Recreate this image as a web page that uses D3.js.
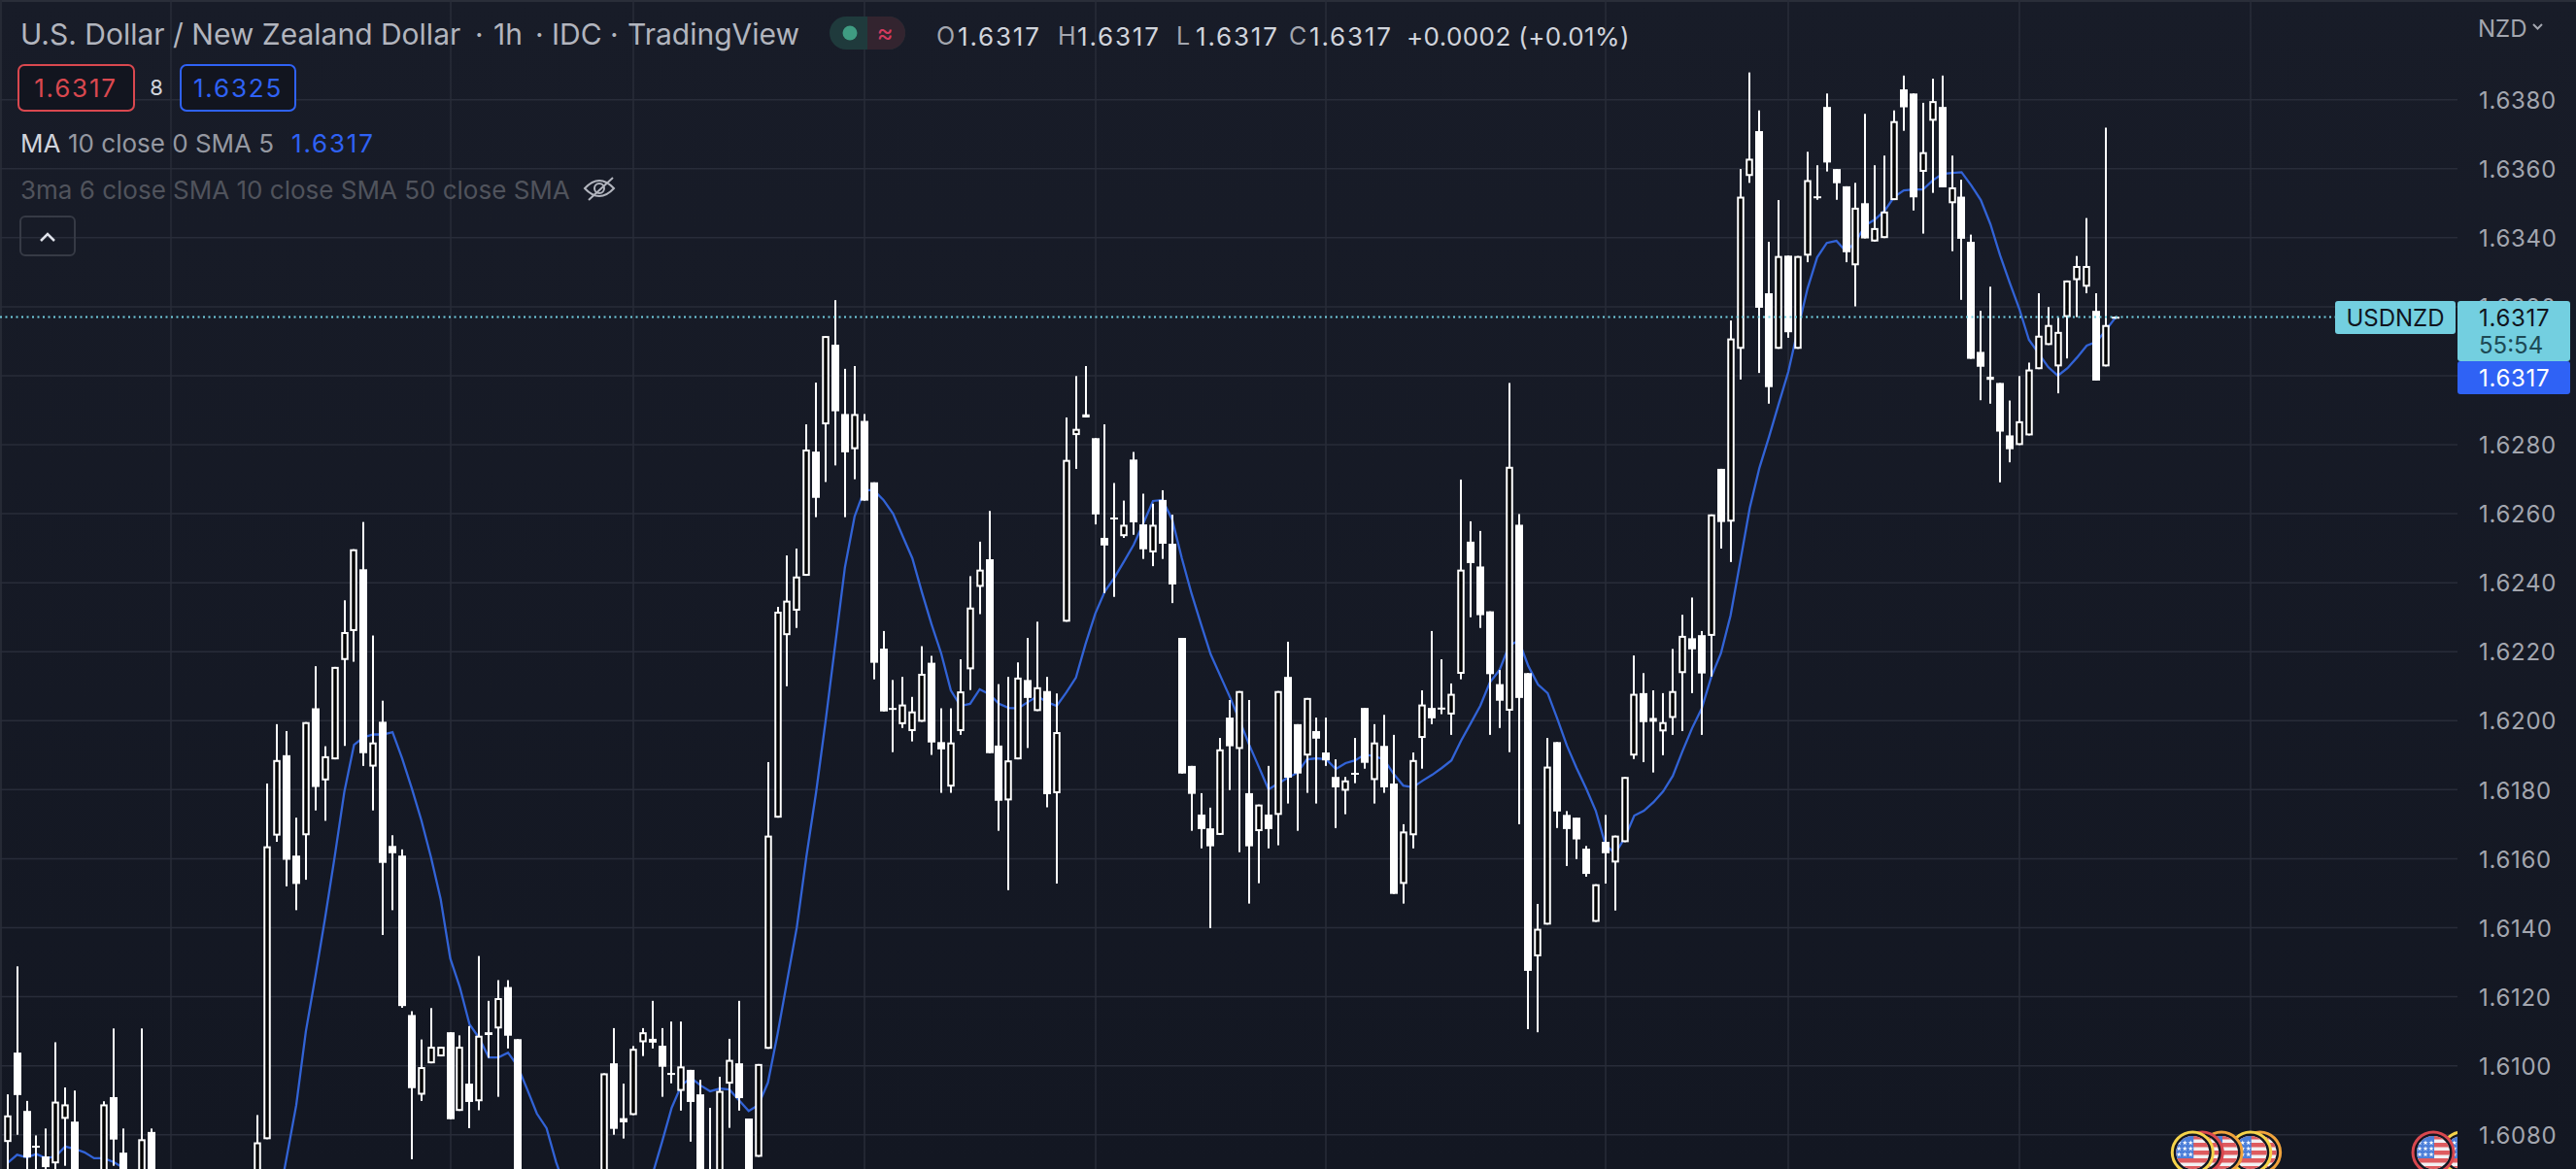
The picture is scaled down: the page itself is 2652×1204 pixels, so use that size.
<!DOCTYPE html>
<html>
<head>
<meta charset="utf-8">
<style>
html, body { margin: 0; padding: 0; background: #131722; overflow: hidden; }
svg { display: block; }
text { font-family: Inter, "Noto Sans", sans-serif; }
</style>
<script src="https://cdn.jsdelivr.net/npm/d3@7"></script>
</head>
<body>
<div id="chart"></div>
<script>
// hourly bars, null = bar sits under the bottom edge
const openValues = [
1.60779,1.61038,1.60869,1.60768,1.60737,1.60717,1.60846,1.60838,null,null,
1.60670,1.60909,1.60748,null,1.60678,1.60808,null,null,null,null,
null,null,null,null,null,null,1.60670,1.60787,1.61667,1.61900,
1.61609,1.61668,1.62036,1.61827,1.61888,1.62176,1.62260,1.62439,1.61867,1.61997,
1.61637,1.61609,1.61147,1.60916,1.61007,1.61027,1.61097,1.60869,1.60948,1.60897,
1.61097,1.61108,1.61228,1.61077,null,null,null,null,null,null,
null,null,1.60670,1.61007,1.60848,1.60857,1.61068,1.61078,1.61058,1.60979,
1.60927,1.60988,1.60917,1.60650,1.60670,1.60948,1.61007,1.60847,1.60736,1.61049,
1.61719,1.62248,1.62319,1.62420,1.62780,1.62859,1.63090,1.62889,1.62787,1.62869,
1.62691,1.62209,1.62037,1.61990,1.61970,1.61997,1.62168,1.61938,1.61809,1.61970,
1.62149,1.62388,1.62468,1.61928,1.61769,1.61888,1.62118,1.62028,1.62086,1.61790,
1.62287,1.62828,1.62879,1.62819,1.62530,1.62589,1.62535,1.62757,1.62569,1.62488,
1.62640,1.62513,1.62240,1.61869,1.61728,1.61688,1.61669,1.62009,1.61918,1.61790,
1.61680,1.61728,1.61727,1.62127,1.61990,1.61899,1.61970,1.61908,1.61837,1.61797,
1.61849,1.62037,1.61828,1.61927,1.61818,1.61527,1.61668,1.61950,1.62037,1.62038,
1.62018,1.62136,1.62519,1.62447,1.62317,1.62106,1.62029,1.62568,1.62138,1.61317,
1.61409,1.61938,1.61727,1.61719,1.61629,1.61417,1.61649,1.61589,1.61648,1.61899,
1.62080,1.61997,1.61969,1.62008,1.62138,1.62239,1.62248,1.62246,1.62730,1.62577,
1.63078,1.63579,1.63709,1.63239,1.63078,1.63348,1.63078,1.63348,1.63520,1.63779,
1.63599,1.63549,1.63320,1.63500,1.63389,1.63399,1.63509,1.63830,1.63818,1.63591,
1.63739,1.63779,1.63500,1.63519,1.63388,1.63069,1.62988,1.62979,1.62827,1.62799,
1.62827,1.63019,1.63089,1.63027,1.63170,1.63277,1.63258,1.63188,1.63027,1.63171]

const highValues = [
1.60917,1.61288,1.60898,1.60798,1.60818,1.61068,1.60937,1.60928,null,null,
1.60897,1.61108,1.60818,null,1.61108,1.60818,null,null,null,null,
null,null,null,null,null,null,1.60857,1.61818,1.61990,1.61970,
1.61719,1.61996,1.62158,1.61926,1.62156,1.62349,1.62497,1.62576,1.62247,1.62058,
1.61668,1.61627,1.61158,1.61076,1.61167,1.61055,1.61097,1.61088,1.61115,1.61318,
1.61188,1.61248,1.61248,1.61077,null,null,null,null,null,null,
null,null,1.60978,1.61109,1.60948,1.61057,1.61109,1.61188,1.61109,1.61128,
1.61128,1.60988,1.60959,1.60878,1.60968,1.61078,1.61188,1.60847,1.61005,1.61880,
1.62330,1.62479,1.62499,1.62859,1.62980,1.63115,1.63219,1.63020,1.63028,1.62889,
1.62691,1.62260,1.62118,1.62127,1.62069,1.62216,1.62188,1.62036,1.62036,1.62178,
1.62419,1.62519,1.62608,1.62106,1.62127,1.62169,1.62240,1.62287,1.62127,1.62079,
1.62879,1.62999,1.63028,1.62819,1.62859,1.62689,1.62638,1.62779,1.62658,1.62629,
1.62668,1.62597,1.62240,1.61869,1.61790,1.61748,1.61950,1.62060,1.62086,1.62060,
1.61757,1.61869,1.62086,1.62229,1.61990,1.62066,1.62009,1.62009,1.61888,1.61837,
1.61950,1.62037,1.61990,1.62017,1.61959,1.61700,1.61908,1.62088,1.62260,1.62178,
1.62108,1.62699,1.62578,1.62550,1.62317,1.62147,1.62979,1.62599,1.62138,1.61469,
1.61950,1.61938,1.61738,1.61719,1.61637,1.61526,1.61727,1.61667,1.61837,1.62189,
1.62138,1.62088,1.62080,1.62208,1.62307,1.62357,1.62260,1.62598,1.62730,1.63160,
1.63599,1.63879,1.63769,1.63388,1.63509,1.63348,1.63347,1.63649,1.63610,1.63818,
1.63599,1.63549,1.63559,1.63759,1.63610,1.63638,1.63769,1.63870,1.63818,1.63791,
1.63861,1.63870,1.63638,1.63568,1.63409,1.63188,1.63258,1.62979,1.62928,1.62999,
1.63038,1.63239,1.63199,1.63168,1.63276,1.63347,1.63457,1.63239,1.63719,1.63172]

const lowValues = [
1.60684,1.60800,1.60692,1.60692,1.60689,1.60684,1.60710,1.60670,null,null,
1.60661,1.60710,1.60670,null,1.60670,1.60670,null,null,null,null,
null,null,null,null,null,null,1.60661,1.60787,1.61649,1.61520,
1.61451,1.61539,1.61740,1.61710,1.61888,1.61927,1.62171,1.61869,1.61740,1.61379,
1.61451,1.61168,1.60729,1.60898,1.61007,1.61027,1.60845,1.60869,1.60819,1.60871,
1.61023,1.60910,1.61050,1.60670,null,null,null,null,null,null,
null,null,1.60670,1.60800,1.60789,1.60857,1.61028,1.61050,1.60910,1.60949,
1.60870,1.60780,1.60670,1.60630,1.60670,1.60820,1.60870,1.60670,1.60736,1.61049,
1.61719,1.62100,1.62269,1.62420,1.62590,1.62692,1.62740,1.62590,1.62700,1.62638,
1.62120,1.62027,1.61909,1.61979,1.61940,1.61997,1.61901,1.61791,1.61791,1.61959,
1.62089,1.62309,1.61906,1.61681,1.61509,1.61888,1.61921,1.62028,1.61749,1.61528,
1.62287,1.62730,1.62879,1.62569,1.62370,1.62359,1.62530,1.62539,1.62469,1.62448,
1.62469,1.62341,1.61847,1.61681,1.61630,1.61399,1.61669,1.61799,1.61619,1.61470,
1.61529,1.61630,1.61639,1.61760,1.61681,1.61791,1.61760,1.61869,1.61689,1.61729,
1.61819,1.61861,1.61760,1.61791,1.61498,1.61470,1.61630,1.61861,1.61990,1.62019,
1.61959,1.62120,1.62300,1.62269,1.61959,1.61979,1.61909,1.61700,1.61106,1.61097,
1.61409,1.61689,1.61579,1.61599,1.61548,1.61417,1.61528,1.61450,1.61648,1.61889,
1.61880,1.61850,1.61900,1.61959,1.61970,1.62080,1.61959,1.62128,1.62499,1.62460,
1.62989,1.63559,1.63008,1.62919,1.63078,1.63110,1.63078,1.63329,1.63510,1.63592,
1.63510,1.63329,1.63201,1.63398,1.63389,1.63399,1.63509,1.63710,1.63479,1.63412,
1.63530,1.63546,1.63361,1.63220,1.63049,1.62929,1.62919,1.62691,1.62749,1.62799,
1.62827,1.63019,1.63089,1.62949,1.63050,1.63170,1.63239,1.62986,1.63027,1.63165]

const closeValues = [
1.60856,1.60915,1.60734,1.60766,1.60706,1.60896,1.60888,1.60684,null,null,
1.60888,1.60786,1.60684,null,1.60787,1.60678,null,null,null,null,
null,null,null,null,null,null,1.60778,1.61636,1.61886,1.61597,
1.61527,1.61996,1.61808,1.61897,1.62156,1.62257,1.62497,1.61906,1.61937,1.61588,
1.61616,1.61173,1.60935,1.60996,1.61055,1.61055,1.60845,1.61055,1.60895,1.61087,
1.61089,1.61196,1.61087,1.60670,null,null,null,null,null,null,
null,null,1.60978,1.60817,1.60836,1.61049,1.61097,1.61067,1.60997,1.60977,
1.60998,1.60895,1.60670,1.60640,1.60927,1.61017,1.60906,1.60670,1.61005,1.61667,
1.62316,1.62348,1.62418,1.62786,1.62646,1.63115,1.62897,1.62778,1.62889,1.62638,
1.62168,1.62027,1.62035,1.62047,1.62027,1.62136,1.61937,1.61917,1.61937,1.62085,
1.62328,1.62438,1.61906,1.61768,1.61885,1.62125,1.62066,1.62097,1.61787,1.61967,
1.62756,1.62846,1.62888,1.62598,1.62508,1.62587,1.62568,1.62575,1.62497,1.62568,
1.62513,1.62395,1.61847,1.61788,1.61686,1.61636,1.61917,1.61926,1.62086,1.61636,
1.61757,1.61686,1.62086,1.61835,1.61847,1.62066,1.61948,1.61885,1.61807,1.61827,
1.61847,1.61878,1.61937,1.61807,1.61498,1.61679,1.61886,1.62047,1.62007,1.62036,
1.62078,1.62438,1.62457,1.62306,1.62135,1.62058,1.62736,1.62066,1.61275,1.61397,
1.61867,1.61737,1.61686,1.61656,1.61556,1.61526,1.61616,1.61667,1.61837,1.62078,
1.61996,1.62008,1.61996,1.62086,1.62246,1.62207,1.62137,1.62598,1.62576,1.63108,
1.63519,1.63629,1.63197,1.62967,1.63347,1.63126,1.63347,1.63567,1.63518,1.63618,
1.63558,1.63358,1.63487,1.63398,1.63428,1.63476,1.63738,1.63778,1.63517,1.63648,
1.63796,1.63546,1.63546,1.63397,1.63049,1.63026,1.62997,1.62838,1.62787,1.62868,
1.63018,1.63116,1.63147,1.63127,1.63276,1.63318,1.63318,1.62986,1.63147,1.63170]

// SMA line, null where it runs below the picture
const maValues = [
1.60718,1.60742,1.60734,1.60744,1.60732,1.60737,1.60766,1.60759,1.60749,1.60732,
1.60732,1.60721,1.60705,1.60670,null,null,null,null,null,null,
null,null,null,null,null,null,null,null,1.60585,1.60734,
1.60886,1.61100,1.61261,1.61429,1.61607,1.61795,1.61930,1.61952,1.61960,1.61960,
1.61967,1.61891,1.61804,1.61711,1.61604,1.61483,1.61311,1.61227,1.61120,1.61080,
1.61024,1.61024,1.61038,1.60999,1.60931,1.60861,1.60819,1.60720,1.60641,null,
null,null,null,null,null,null,null,1.60684,1.60779,1.60878,
1.60943,1.60965,1.60943,1.60926,1.60934,1.60931,1.60900,1.60869,1.60886,1.60951,
1.61092,1.61247,1.61401,1.61607,1.61792,1.62001,1.62223,1.62445,1.62592,1.62668,
1.62668,1.62640,1.62600,1.62535,1.62471,1.62372,1.62279,1.62195,1.62088,1.62043,
1.62049,1.62091,1.62077,1.62049,1.62037,1.62036,1.62054,1.62071,1.62054,1.62043,
1.62082,1.62125,1.62223,1.62310,1.62375,1.62415,1.62462,1.62510,1.62572,1.62637,
1.62640,1.62583,1.62471,1.62369,1.62279,1.62192,1.62130,1.62068,1.62001,1.61930,
1.61866,1.61801,1.61818,1.61835,1.61849,1.61888,1.61891,1.61888,1.61860,1.61877,
1.61885,1.61902,1.61897,1.61888,1.61846,1.61812,1.61807,1.61826,1.61843,1.61863,
1.61885,1.61942,1.61992,1.62043,1.62111,1.62147,1.62218,1.62232,1.62158,1.62105,
1.62080,1.62006,1.61928,1.61863,1.61804,1.61739,1.61641,1.61615,1.61660,1.61725,
1.61739,1.61764,1.61795,1.61840,1.61911,1.61978,1.62035,1.62127,1.62195,1.62305,
1.62460,1.62617,1.62733,1.62823,1.62918,1.63011,1.63135,1.63253,1.63343,1.63385,
1.63391,1.63360,1.63388,1.63436,1.63453,1.63478,1.63518,1.63537,1.63540,1.63540,
1.63566,1.63585,1.63588,1.63590,1.63552,1.63509,1.63439,1.63349,1.63270,1.63194,
1.63104,1.63065,1.63025,1.63000,1.63022,1.63053,1.63087,1.63098,1.63132,1.63169]

const priceTicks = [1.608,1.61,1.612,1.614,1.616,1.618,1.62,1.622,1.624,1.626,1.628,1.63,1.632,1.634,1.636,1.638]
const timeGridBars = [17,46,65,89,113,137,166,185,209,233]
const lastPrice = 1.6317

// economic event flags at the bottom
const eventBars = [234,233,230,228,227,255,252]
const eventColors = ['#f0a33c','#f5d34a','#f0a33c','#d9484f','#f5d34a','#f5d34a','#d9484f']

const titleParts = [
    ['U.S. Dollar / New Zealand Dollar', 21], ['·', 489], ['1h', 508], ['·', 551],
    ['IDC', 568], ['·', 628], ['TradingView', 646]
]
const ohlcLetters = [['O', 964], ['H', 1089], ['L', 1211], ['C', 1327]]
const ohlcNumbers = [['1.6317', 986], ['1.6317', 1109], ['1.6317', 1231], ['1.6317', 1348]]

const width = 2652
const height = 1204
const plotRight = 2530

const svg = d3.select('#chart').append('svg')
    .attr('width', width)
    .attr('height', height)

const defs = svg.append('defs')
const bg = defs.append('linearGradient').attr('id', 'bg').attr('x1', 0).attr('x2', 0).attr('y1', 0).attr('y2', 1)
bg.append('stop').attr('offset', 0).attr('stop-color', '#181c28')
bg.append('stop').attr('offset', 1).attr('stop-color', '#131722')
defs.append('clipPath').attr('id', 'plotClip').append('rect')
    .attr('x', 0).attr('y', 0).attr('width', plotRight).attr('height', height)

svg.append('rect').attr('width', width).attr('height', height).attr('fill', 'url(#bg)')
svg.append('rect').attr('width', width).attr('height', 2).attr('fill', '#2a2e39')
svg.append('rect').attr('width', 2).attr('height', height).attr('fill', '#262a35')

const yScale = d3.scaleLinear().domain([1.608, 1.638]).range([1168.7, 102.7])
const xScale = d3.scaleLinear().domain([0, 219]).range([7.7, 2178])

// grid
const gridColor = '#282c39'
svg.append('g').selectAll('line').data(priceTicks).enter().append('line')
    .attr('x1', 0).attr('x2', plotRight)
    .attr('y1', d => yScale(d)).attr('y2', d => yScale(d))
    .attr('stroke', gridColor).attr('stroke-width', 1.5)
svg.append('g').selectAll('line').data(timeGridBars).enter().append('line')
    .attr('x1', d => Math.round(xScale(d))).attr('x2', d => Math.round(xScale(d)))
    .attr('y1', 0).attr('y2', height)
    .attr('stroke', gridColor).attr('stroke-width', 1.5)

// moving average goes under the candles
const maLine = d3.line()
    .defined(d => d !== null)
    .x((d, i) => xScale(i))
    .y(d => yScale(d))
svg.append('path')
    .attr('d', maLine(maValues))
    .attr('fill', 'none')
    .attr('stroke', '#3263d6')
    .attr('stroke-width', 2.3)

// candles
const candles = d3.range(openValues.length)
    .filter(i => openValues[i] !== null)
    .map(i => ({ i: i, o: openValues[i], h: highValues[i], l: lowValues[i], c: closeValues[i] }))

const candle = svg.append('g').selectAll('g').data(candles).enter().append('g')
    .attr('transform', d => 'translate(' + Math.round(xScale(d.i)) + ',0)')

candle.append('rect')
    .attr('x', -1).attr('width', 2)
    .attr('y', d => yScale(d.h))
    .attr('height', d => yScale(d.l) - yScale(d.h))
    .attr('fill', '#fff')

// rising bars are hollow, falling ones solid
candle.filter(d => d.c > d.o).append('rect')
    .attr('x', -2.75).attr('width', 5.5)
    .attr('y', d => yScale(d.c) + 1)
    .attr('height', d => Math.max(yScale(d.o) - yScale(d.c) - 2, 1))
    .attr('fill', '#000').attr('stroke', '#fff').attr('stroke-width', 2)

candle.filter(d => d.c <= d.o).append('rect')
    .attr('x', -4).attr('width', 8)
    .attr('y', d => yScale(d.o))
    .attr('height', d => Math.max(yScale(d.c) - yScale(d.o), 2))
    .attr('fill', '#fff')

// last price line
svg.append('line')
    .attr('x1', 0).attr('x2', 2404)
    .attr('y1', yScale(lastPrice)).attr('y2', yScale(lastPrice))
    .attr('stroke', '#73cfe0').attr('stroke-width', 2).attr('stroke-dasharray', '2 3.5')

// flags
const flagLayer = svg.append('g').attr('clip-path', 'url(#plotClip)')
const flagY = 1187
const stripeTops = [-18, -10, -2, 6, 14]
const starSpots = d3.cross([-14, -8, -2], [-10, -4, 2])
eventBars.forEach((bar, n) => {
    const g = flagLayer.append('g').attr('transform', 'translate(' + xScale(bar) + ',' + flagY + ')')
    const clipId = 'flag' + n
    defs.append('clipPath').attr('id', clipId).append('circle').attr('r', 17)
    g.append('circle').attr('r', 21).attr('fill', '#131722').attr('stroke', eventColors[n]).attr('stroke-width', 3)
    const inner = g.append('g').attr('clip-path', 'url(#' + clipId + ')')
    inner.append('rect').attr('x', -18).attr('y', -18).attr('width', 36).attr('height', 36).attr('fill', '#f2f0f2')
    inner.selectAll('.stripe').data(stripeTops).enter().append('rect')
        .attr('class', 'stripe')
        .attr('x', -18).attr('y', d => d).attr('width', 36).attr('height', 4.5)
        .attr('fill', '#de5b5f')
    inner.append('rect').attr('x', -18).attr('y', -18).attr('width', 19).attr('height', 24).attr('fill', '#4c7fd9')
    inner.selectAll('.star').data(starSpots).enter().append('path')
        .attr('class', 'star')
        .attr('d', d3.symbol(d3.symbolStar, 9))
        .attr('transform', d => 'translate(' + d[0] + ',' + d[1] + ')')
        .attr('fill', '#fff')
})

// price axis
const axis = d3.axisRight(yScale)
    .tickValues(priceTicks)
    .tickSize(0)
    .tickPadding(0)
    .tickFormat(d3.format('.4f'))
const axisG = svg.append('g').attr('transform', 'translate(2552,0)').call(axis)
axisG.select('.domain').remove()
axisG.selectAll('text')
    .attr('fill', '#a3a6af')
    .attr('dy', '0.36em')
    .style('font-size', '24px')
    .style('letter-spacing', '0.7px')
    .style('font-family', 'Inter, sans-serif')

function label(x, y, str, size, color, anchor) {
    return svg.append('text')
        .attr('x', x).attr('y', y)
        .attr('dominant-baseline', 'central')
        .attr('text-anchor', anchor || 'start')
        .attr('fill', color)
        .style('font-size', size + 'px')
        .text(str)
}

// legend numbers are set wider than the words
function number(x, y, str, color, anchor) {
    return label(x, y, str, 26, color, anchor).style('letter-spacing', '1.8px')
}

label(2551, 29, 'NZD', 24, '#a3a6af')
svg.append('path').attr('d', 'M2608 25 L2612.5 29.5 L2617 25')
    .attr('fill', 'none').attr('stroke', '#a3a6af').attr('stroke-width', 2)

// tags on the right
svg.append('rect').attr('x', 2404).attr('y', 310).attr('width', 124).attr('height', 34).attr('rx', 3).attr('fill', '#73cfe0')
label(2466, 327, 'USDNZD', 24, '#10141d', 'middle')
svg.append('rect').attr('x', 2530).attr('y', 310).attr('width', 116).attr('height', 62).attr('rx', 3).attr('fill', '#73cfe0')
svg.append('rect').attr('x', 2530).attr('y', 372).attr('width', 116).attr('height', 34).attr('rx', 3).attr('fill', '#2f62f5')
label(2552, 327, d3.format('.4f')(lastPrice), 24, '#10141d').style('letter-spacing', '0.7px')
label(2552, 355, '55:54', 24, '#1d4a55')
label(2552, 389, d3.format('.4f')(lastPrice), 24, '#fff').style('letter-spacing', '0.7px')

// legend
titleParts.forEach(p => label(p[1], 35, p[0], 30, '#b2b5be'))

svg.append('rect').attr('x', 854).attr('y', 17).attr('width', 78).attr('height', 34).attr('rx', 17).attr('fill', '#1f3a3c')
svg.append('path').attr('d', 'M893 17 H915 A17 17 0 0 1 915 51 H893 Z').attr('fill', '#33242f')
svg.append('circle').attr('cx', 875).attr('cy', 34).attr('r', 7.5).attr('fill', '#3f9c82')
label(911, 33, '≈', 26, '#d23a5e', 'middle')

ohlcLetters.forEach(p => label(p[1], 37, p[0], 25, '#a3a6af'))
ohlcNumbers.forEach(p => number(p[1], 37, p[0], '#d1d4dc'))
label(1448, 37, '+0.0002 (+0.01%)', 26, '#d1d4dc').style('letter-spacing', '0.4px')

svg.append('rect').attr('x', 19).attr('y', 67).attr('width', 119).attr('height', 47).attr('rx', 6)
    .attr('fill', '#12151f').attr('stroke', '#d9484f').attr('stroke-width', 2)
number(78, 90, '1.6317', '#d9484f', 'middle')
label(161, 90, '8', 22, '#d1d4dc', 'middle')
svg.append('rect').attr('x', 186).attr('y', 67).attr('width', 118).attr('height', 47).attr('rx', 6)
    .attr('fill', '#12151f').attr('stroke', '#2f62f5').attr('stroke-width', 2)
number(245, 90, '1.6325', '#2f62f5', 'middle')

label(21, 147, 'MA', 26, '#d1d4dc')
label(70, 147, '10 close 0 SMA 5', 26, '#9598a1')
number(300, 147, '1.6317', '#2f62f5')

label(21, 195, '3ma 6 close SMA 10 close SMA 50 close SMA', 26, '#50535c')
// eye icon with slash
svg.append('path')
    .attr('d', 'M602 194 Q617 178 632 194 Q617 210 602 194 Z M631 183 L606 206')
    .attr('fill', 'none').attr('stroke', '#b2b5be').attr('stroke-width', 2)
svg.append('circle').attr('cx', 617).attr('cy', 194).attr('r', 5)
    .attr('fill', 'none').attr('stroke', '#b2b5be').attr('stroke-width', 2)

svg.append('rect').attr('x', 21).attr('y', 223).attr('width', 56).attr('height', 40).attr('rx', 5)
    .attr('fill', 'none').attr('stroke', '#363a45').attr('stroke-width', 2)
svg.append('path').attr('d', 'M42 248 L49 241 L56 248')
    .attr('fill', 'none').attr('stroke', '#e0e3eb').attr('stroke-width', 2.5)
</script>
</body>
</html>
